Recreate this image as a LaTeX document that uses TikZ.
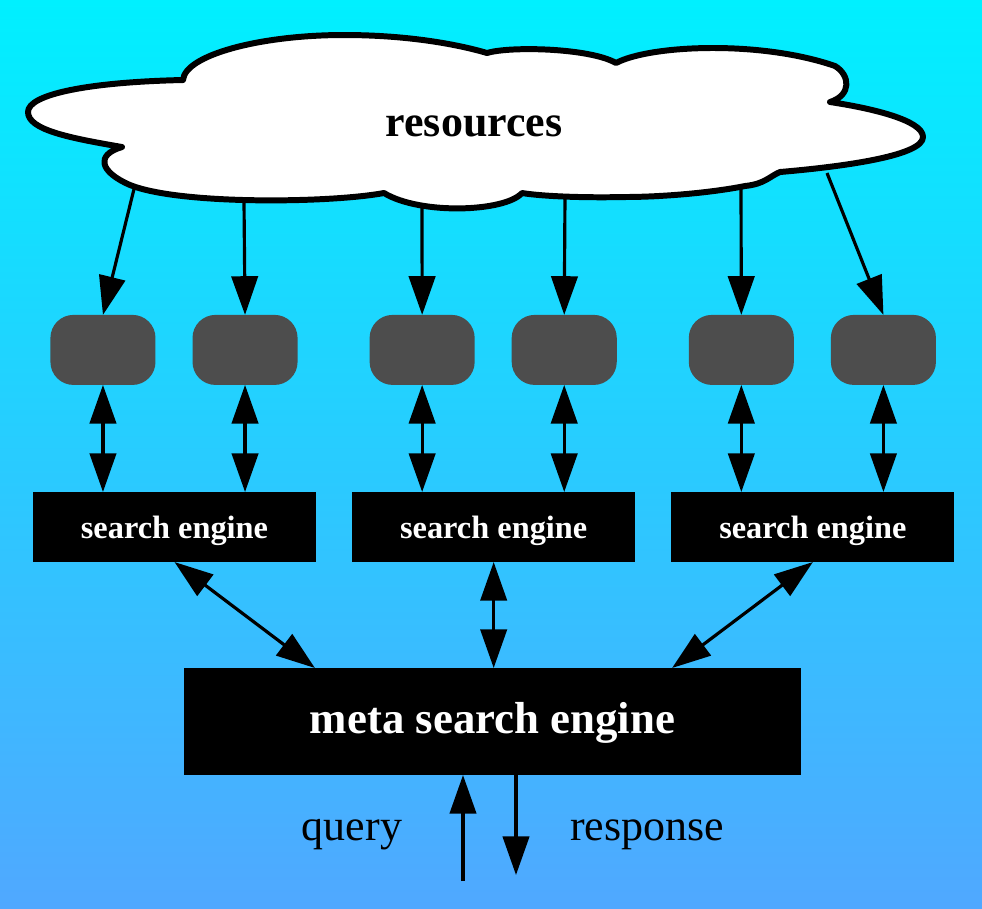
\documentclass[tikz,border=0pt]{standalone}
\usepackage{fontspec}
\setmainfont{Liberation Serif}
\usetikzlibrary{arrows.meta, positioning}
\definecolor{skytop}{RGB}{0,240,255}
\definecolor{skybottom}{RGB}{80,168,255}
\definecolor{boxgray}{RGB}{77,77,77}

\begin{document}
\begin{tikzpicture}[x=0.01cm, y=-0.01cm, node distance=0.36cm,
    >={Triangle[length=11pt, width=7.5pt]},
    link/.style={line width=0.9pt},
    source/.style={fill=boxgray, rounded corners=0.23cm, minimum width=1.05cm, minimum height=0.7cm, inner sep=0pt, outer sep=0pt},
    engine/.style={fill=black, text=white, font=\fontsize{9.2}{11}\selectfont\bfseries, text height=8.3pt, text depth=2pt, minimum width=2.83cm, minimum height=0.7cm, inner sep=0pt, outer sep=0pt},
    meta/.style={fill=black, text=white, font=\fontsize{12.75}{15}\selectfont\bfseries, text height=9.6pt, text depth=3pt, minimum width=6.17cm, minimum height=1.07cm, inner sep=0pt, outer sep=0pt}]
    \shade[top color=skytop, bottom color=skybottom] (0,0) rectangle (982,908);
    \useasboundingbox (0,0) rectangle (982,908);
    \draw[fill=white, line width=1.7pt, line join=round] (122,147) .. controls (70,138) and (28,130) .. (28,112)
        .. controls (28,94) and (90,82) .. (183,80)
        .. controls (185,55) and (260,35) .. (344,35)
        .. controls (410,35) and (460,45) .. (487,53)
        .. controls (510,46) and (590,48) .. (616,63)
        .. controls (650,45) and (760,40) .. (835,66)
        .. controls (850,75) and (852,95) .. (830,102)
        .. controls (870,108) and (923,120) .. (923,137)
        .. controls (923,155) and (850,166) .. (780,172)
        .. controls (770,176) and (765,184) .. (745,186)
        .. controls (710,193) and (660,197) .. (625,197)
        .. controls (580,198) and (540,196) .. (522,193)
        .. controls (505,212) and (420,215) .. (384,193)
        .. controls (330,203) and (180,205) .. (130,185)
        .. controls (100,172) and (95,155) .. (122,147) -- cycle;
    \node[font=\fontsize{12.5}{15}\selectfont\bfseries, anchor=base] (res) at (474,136) {resources};
    \coordinate (c1) at (134,189);
    \coordinate (c2) at (244,202);
    \coordinate (c3) at (422,206);
    \coordinate (c4) at (565,196);
    \coordinate (c5) at (741,187);
    \coordinate (c6) at (827,173);

    \node[engine] (se1) at (174.5,527) {search engine};
    \node[engine, right=of se1] (se2) {search engine};
    \node[engine, right=of se2] (se3) {search engine};
    \node[meta] (meta) at (492.5,721.5) {meta search engine};

    \node[source] (src1) at ([xshift=-0.715cm, yshift=1.77cm]se1.center) {};
    \node[source] (src2) at ([xshift=0.705cm, yshift=1.77cm]se1.center) {};
    \node[source] (src3) at ([xshift=-0.715cm, yshift=1.77cm]se2.center) {};
    \node[source] (src4) at ([xshift=0.705cm, yshift=1.77cm]se2.center) {};
    \node[source] (src5) at ([xshift=-0.715cm, yshift=1.77cm]se3.center) {};
    \node[source] (src6) at ([xshift=0.705cm, yshift=1.77cm]se3.center) {};

    \draw[link, ->] (c1) -- (src1.north);
    \draw[link, ->] (c2) -- (src2.north);
    \draw[link, ->] (c3) -- (src3.north);
    \draw[link, ->] (c4) -- (src4.north);
    \draw[link, ->] (c5) -- (src5.north);
    \draw[link, ->] (c6) -- (src6.north);

    \draw[link, <->] (src1.south) -- (src1.south |- se1.north);
    \draw[link, <->] (src2.south) -- (src2.south |- se1.north);
    \draw[link, <->] (src3.south) -- (src3.south |- se2.north);
    \draw[link, <->] (src4.south) -- (src4.south |- se2.north);
    \draw[link, <->] (src5.south) -- (src5.south |- se3.north);
    \draw[link, <->] (src6.south) -- (src6.south |- se3.north);

    \draw[link, <->] (se1.south) -- ([xshift=1.31cm]meta.north west);
    \draw[link, <->] (se2.south) -- (se2.south |- meta.north);
    \draw[link, <->] (se3.south) -- ([xshift=-1.29cm]meta.north east);

    \coordinate (q) at (463,881);
    \coordinate (r) at (516,875);
    \draw[link, ->] (q) -- (q |- meta.south);
    \draw[link, ->] (r |- meta.south) -- (r);
    \node[font=\fontsize{12.5}{15}\selectfont, anchor=base] (query) at (352,840) {query};
    \node[font=\fontsize{12.5}{15}\selectfont, anchor=base] (response) at (647,840) {response};
\end{tikzpicture}
\end{document}
